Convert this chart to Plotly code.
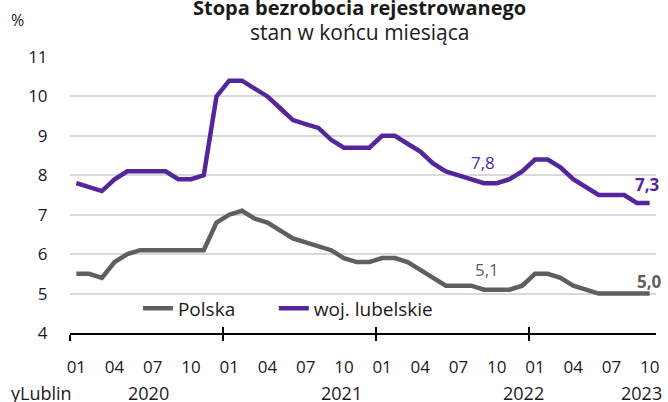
import plotly.graph_objects as go

months = ["01","02","03","04","05","06","07","08","09","10","11","12"] * 3 + ["01","02","03","04","05","06","07","08","09","10"]
years = ["2020", "2021", "2022", "2023"]

polska = [5.5, 5.5, 5.4, 5.8, 6.0, 6.1, 6.1, 6.1, 6.1, 6.1, 6.1, 6.8,
          7.0, 7.1, 6.9, 6.8, 6.6, 6.4, 6.3, 6.2, 6.1, 5.9, 5.8, 5.8,
          5.9, 5.9, 5.8, 5.6, 5.4, 5.2, 5.2, 5.2, 5.1, 5.1, 5.1, 5.2,
          5.5, 5.5, 5.4, 5.2, 5.1, 5.0, 5.0, 5.0, 5.0, 5.0]
lubelskie = [7.8, 7.7, 7.6, 7.9, 8.1, 8.1, 8.1, 8.1, 7.9, 7.9, 8.0, 10.0,
             10.4, 10.4, 10.2, 10.0, 9.7, 9.4, 9.3, 9.2, 8.9, 8.7, 8.7, 8.7,
             9.0, 9.0, 8.8, 8.6, 8.3, 8.1, 8.0, 7.9, 7.8, 7.8, 7.9, 8.1,
             8.4, 8.4, 8.2, 7.9, 7.7, 7.5, 7.5, 7.5, 7.3, 7.3]

idx = list(range(len(months)))
month_ticks = [i for i in idx if months[i] in ("01", "04", "07", "10")]
year_bounds = [i - 0.5 for i in idx if months[i] == "01"]
year_label_pos = [5.7, 20.8, 35.1, 44.4]

PURPLE = "#54269B"
GRAY = "#5F5F5F"
FONT = "Open Sans"
TXT = "#1a1a1a"

ML, MR, MT, MB = 70, 11.5, 56.8, 69.4
W, H = 668, 402
plot_w = W - ML - MR
plot_h = H - MT - MB


def px_x(px):
    return (px - ML) / plot_w


def px_y(py):
    return (H - MB - py) / plot_h


fig = go.Figure()
fig.add_trace(go.Scatter(x=idx, y=polska, mode="lines", name="Polska",
                         line=dict(color=GRAY, width=4.5), legend="legend"))
fig.add_trace(go.Scatter(x=idx, y=lubelskie, mode="lines", name="woj. lubelskie",
                         line=dict(color=PURPLE, width=4.5), legend="legend2"))
fig.add_trace(go.Scatter(x=[-0.5], y=[4], mode="markers", marker=dict(opacity=0),
                         showlegend=False, hoverinfo="skip", xaxis="x2", yaxis="y"))

xr = [-0.5, len(idx) - 0.5]
leg_common = dict(orientation="h", xanchor="left", yanchor="middle", y=px_y(308),
                  font=dict(family=FONT, size=19, color=TXT), bgcolor="rgba(0,0,0,0)")
fig.update_layout(
    template="none",
    width=W, height=H,
    margin=dict(l=ML, r=MR, t=MT, b=MB, autoexpand=False),
    paper_bgcolor="white", plot_bgcolor="white",
    font=dict(family=FONT, size=17, color=TXT),
    showlegend=True,
    legend=dict(x=px_x(138), **leg_common),
    legend2=dict(x=px_x(274), **leg_common),
    xaxis=dict(range=xr, tickmode="array", tickvals=month_ticks,
               ticktext=[months[i] for i in month_ticks], automargin=False,
               showgrid=False, zeroline=False, showline=True, linecolor="black", linewidth=2,
               ticks="outside", ticklen=6, tickwidth=2, tickcolor="rgba(0,0,0,0)",
               ticklabelstandoff=12,
               minor=dict(tickmode="array", tickvals=year_bounds, ticks="outside",
                          ticklen=6, tickwidth=2, tickcolor="black", showgrid=False),
               fixedrange=True),
    xaxis2=dict(range=xr, overlaying="x", anchor="y", side="bottom", automargin=False,
                tickmode="array", tickvals=year_bounds, ticks="inside", ticklen=6,
                tickwidth=2, tickcolor="black", showticklabels=False,
                showgrid=False, zeroline=False, showline=False),
    yaxis=dict(range=[4, 11], tickmode="array", tickvals=[4, 5, 6, 7, 8, 9, 10, 11],
               automargin=False,
               showgrid=True, gridcolor="#D9D9D9", gridwidth=1.5, zeroline=False,
               showline=False, ticks="outside", ticklen=18, tickcolor="rgba(0,0,0,0)",
               fixedrange=True),
)

annotations = [
    dict(text="<b>Stopa bezrobocia rejestrowanego</b>", x=px_x(360), y=px_y(7), xref="paper", yref="paper",
         showarrow=False, xanchor="center", yanchor="middle", font=dict(size=20, color=TXT)),
    dict(text="stan w końcu miesiąca", x=px_x(360), y=px_y(32), xref="paper", yref="paper",
         showarrow=False, xanchor="center", yanchor="middle", font=dict(size=21, color=TXT)),
    dict(text="%", x=px_x(17), y=px_y(20), xref="paper", yref="paper",
         showarrow=False, xanchor="center", yanchor="middle", font=dict(size=16, color=TXT)),
    dict(text="yLublin", x=px_x(74), y=px_y(393), xref="paper", yref="paper",
         showarrow=False, xanchor="right", yanchor="middle", font=dict(size=18, color=TXT)),
    dict(text="7,8", x=32, y=lubelskie[32], xref="x", yref="y", showarrow=False,
         yshift=21, xshift=-1, font=dict(size=17, color=PURPLE)),
    dict(text="<b>7,3</b>", x=45, y=lubelskie[45], xref="x", yref="y", showarrow=False,
         yshift=18, xshift=-2, font=dict(size=17, color=PURPLE)),
    dict(text="5,1", x=32, y=polska[32], xref="x", yref="y", showarrow=False,
         yshift=20, xshift=3, font=dict(size=17, color=GRAY)),
    dict(text="<b>5,0</b>", x=45, y=polska[45], xref="x", yref="y", showarrow=False,
         yshift=12, xshift=0, font=dict(size=17, color=GRAY)),
]
for yv, xp in zip(years, year_label_pos):
    annotations.append(dict(text=yv, x=xp, y=px_y(393), xref="x", yref="paper", showarrow=False,
                            xanchor="center", yanchor="middle", font=dict(size=18, color=TXT)))
fig.update_layout(annotations=annotations)

fig.write_html("out.html", config={"displayModeBar": False},
               post_script="document.body.style.margin='0';document.body.style.overflow='hidden';")
